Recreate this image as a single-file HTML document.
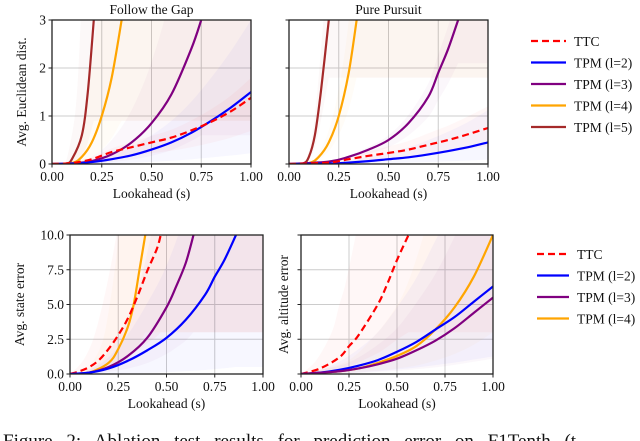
<!DOCTYPE html>
<html><head><meta charset="utf-8">
<style>
html,body{margin:0;padding:0;background:#fff;}
svg{display:block;font-family:"Liberation Serif",serif;}
</style></head>
<body>
<svg id="fig" width="640" height="441" viewBox="0 0 640 441" xmlns="http://www.w3.org/2000/svg"></svg>
<script>
// ---- data ----
const xTicks = [0, 0.25, 0.5, 0.75, 1.0];
const xTickLabels = ["0.00","0.25","0.50","0.75","1.00"];
const topYTicks = [0,1,2,3];
const topYTickLabels = ["0","1","2","3"];
const botYTicks = [0,2.5,5,7.5,10];
const botYTickLabels = ["0.0","2.5","5.0","7.5","10.0"];

// Follow the Gap
const fgTTC_x = [0,.1,.2,.3,.4,.5,.6,.7,.8,.9,1];
const fgTTC_y = [0,.02,.1,.25,.35,.45,.55,.7,.88,1.1,1.38];
const fgL2_x = [0,.1,.2,.3,.4,.5,.6,.7,.8,.9,1];
const fgL2_y = [0,.01,.04,.1,.18,.3,.45,.65,.9,1.18,1.5];
const fgL3_x = [0,.1,.2,.3,.4,.5,.6,.7,.75];
const fgL3_y = [0,.01,.06,.2,.45,.85,1.45,2.4,3.0];
const fgL4_x = [0,.1,.15,.2,.25,.3,.35];
const fgL4_y = [0,.02,.15,.45,1.0,1.8,3.0];
const fgL5_x = [0,.07,.1,.15,.18,.21];
const fgL5_y = [0,.01,.1,.6,1.5,3.0];
// Pure Pursuit
const ppTTC_x = [0,.2,.3,.4,.5,.6,.7,.8,.9,1];
const ppTTC_y = [0,.03,.1,.17,.23,.3,.4,.5,.62,.75];
const ppL2_x = [0,.2,.3,.4,.5,.6,.7,.8,.9,1];
const ppL2_y = [0,.01,.03,.06,.1,.14,.2,.27,.35,.45];
const ppL3_x = [0,.2,.3,.4,.5,.6,.7,.75,.8,.85];
const ppL3_y = [0,.05,.15,.3,.5,.85,1.4,1.9,2.4,3.0];
const ppL4_x = [0,.1,.15,.2,.25,.3,.34];
const ppL4_y = [0,.02,.15,.45,1.0,1.9,3.0];
const ppL5_x = [0,.07,.1,.13,.16,.2];
const ppL5_y = [0,.01,.15,.6,1.5,3.0];
// State error
const seTTC_x = [0,.05,.1,.15,.2,.25,.3,.35,.4,.45,.47];
const seTTC_y = [0,.2,.5,1.0,1.8,2.8,4.0,5.6,7.4,9.0,10];
const seL2_x = [0,.1,.2,.3,.4,.5,.6,.7,.75,.8,.86];
const seL2_y = [0,.1,.4,.95,1.7,2.6,3.9,5.7,7.0,8.2,10];
const seL3_x = [0,.1,.2,.3,.4,.5,.55,.6,.64];
const seL3_y = [0,.1,.5,1.3,2.6,4.8,6.3,8.0,10];
const seL4_x = [0,.1,.2,.25,.3,.33,.36,.39];
const seL4_y = [0,.1,.8,1.8,3.4,5.0,7.5,10];
// Altitude error
const aeTTC_x = [0,.1,.2,.25,.3,.4,.45,.5,.56];
const aeTTC_y = [0,.4,1.2,2.0,2.8,5.0,6.5,8.2,10];
const aeL2_x = [0,.1,.2,.3,.4,.5,.6,.7,.8,.9,1];
const aeL2_y = [0,.1,.3,.6,1.0,1.6,2.3,3.2,4.1,5.2,6.3];
const aeL3_x = [0,.2,.3,.4,.5,.6,.7,.8,.9,1];
const aeL3_y = [0,.2,.4,.7,1.1,1.7,2.4,3.3,4.4,5.5];
const aeL4_x = [0,.2,.3,.4,.5,.6,.7,.8,.9,1];
const aeL4_y = [0,.2,.4,.8,1.3,2.0,3.2,4.8,7.0,10];

const C = {ttc:"#ff0000", l2:"#0000ff", l3:"#800080", l4:"#ffa500", l5:"#a52a2a"};
const NS = "http://www.w3.org/2000/svg";
const svg = document.getElementById("fig");
function mk(tag, attrs, parent){
  const e = document.createElementNS(NS, tag);
  for (const k in attrs) e.setAttribute(k, attrs[k]);
  (parent||svg).appendChild(e);
  return e;
}
function pathThrough(pts, cmd){
  let d = (cmd||"M")+pts[0][0]+","+pts[0][1];
  for (let i=0;i<pts.length-1;i++){
    const p0=pts[Math.max(0,i-1)], p1=pts[i], p2=pts[i+1], p3=pts[Math.min(pts.length-1,i+2)];
    const c1=[p1[0]+(p2[0]-p0[0])/6, p1[1]+(p2[1]-p0[1])/6];
    const c2=[p2[0]-(p3[0]-p1[0])/6, p2[1]-(p3[1]-p1[1])/6];
    d+=" C"+c1[0]+","+c1[1]+" "+c2[0]+","+c2[1]+" "+p2[0]+","+p2[1];
  }
  return d;
}
let clipN = 0;
function panel(o){
  const g = mk("g", {});
  
  
  const xs = v => o.x0 + v*(o.x1-o.x0);
  const ys = v => o.y1 - v/o.ymax*(o.y1-o.y0);
  const id = "clip"+(clipN++);
  const cp = mk("clipPath", {id:id}, g);
  mk("rect", {x:o.x0, y:o.y0, width:o.x1-o.x0, height:o.y1-o.y0}, cp);
  xTicks.forEach(t=>{ const l=mk("line",{x1:xs(t),x2:xs(t),y1:o.y0,y2:o.y1,stroke:"#cccccc","stroke-width":1},g);
      });
  o.yt.forEach(t=>{ const l=mk("line",{x1:o.x0,x2:o.x1,y1:ys(t),y2:ys(t),stroke:"#cccccc","stroke-width":1},g);
      });
  const pg = mk("g", {"clip-path":"url(#"+id+")"}, g);
  o.series.forEach(s=>{
    const up = s.x.map((v,i)=>[xs(v*s.bx), ys(s.y[i]*s.bh)]);
    const lo = s.x.map((v,i)=>[xs(v), ys(s.y[i]*s.bl)]);
    const last = up[up.length-1];
    const loLast = lo[lo.length-1];
    let d = pathThrough(up) + " L"+last[0]+","+(o.y0-400)+" L"+(o.x1+400)+","+(o.y0-400)+" L"+(o.x1+400)+","+loLast[1];
    d += " " + pathThrough(lo.slice().reverse(), "L") + "Z";
    const b = mk("path",{d:d,fill:s.c,"fill-opacity":0.03,stroke:"none"},pg);
    
    
  });
  o.series.forEach(s=>{
    const pts = s.x.map((v,i)=>[xs(v), ys(s.y[i])]);
    const p = mk("path",{d:pathThrough(pts),fill:"none",stroke:s.c,"stroke-width":2.2,"stroke-dasharray":s.dash||"none"},pg);
    
    
  });
  const fr = mk("rect",{x:o.x0,y:o.y0,width:o.x1-o.x0,height:o.y1-o.y0,fill:"none",stroke:"#222","stroke-width":1.3},g);
   
  xTicks.forEach((t,i)=>{
    mk("line",{x1:xs(t),x2:xs(t),y1:o.y1,y2:o.y1+3.5,stroke:"#222"},g);
    const tx = mk("text",{x:xs(t),y:o.y1+17,"text-anchor":"middle","font-size":13.5,fill:"#111"},g);
    tx.textContent = xTickLabels[i];
     
  });
  o.yt.forEach((t,i)=>{
    mk("line",{x1:o.x0-3.5,x2:o.x0,y1:ys(t),y2:ys(t),stroke:"#222"},g);
    if (o.showY){
      const tx = mk("text",{x:o.x0-6,y:ys(t)+4.5,"text-anchor":"end","font-size":13.5,fill:"#111"},g);
      tx.textContent = o.ytl[i];
       
    }
  });
  const xl = mk("text",{x:(o.x0+o.x1)/2,y:o.y1+34,"text-anchor":"middle","font-size":13.5,fill:"#111"},g);
  xl.textContent = "Lookahead (s)";
   
  if (o.ylabel){
    const cy=(o.y0+o.y1)/2;
    const yl = mk("text",{x:o.ylx,y:cy,"text-anchor":"middle","font-size":13.5,fill:"#111",transform:"rotate(-90 "+o.ylx+" "+cy+")"},g);
    yl.textContent = o.ylabel;
     
  }
  if (o.title){
    const tt = mk("text",{x:(o.x0+o.x1)/2,y:o.y0-6,"text-anchor":"middle","font-size":13.5,fill:"#111"},g);
    tt.textContent = o.title;
     
  }
}
function S(k,x,y,bl,bh,bx){return {k:k,x:x,y:y,c:C[k],bl:bl,bh:bh,bx:bx,dash:k==="ttc"?"7,4":null};}
panel({name:"follow-the-gap-panel",x0:52,x1:251,y0:20,y1:164,ymax:3,yt:topYTicks,ytl:topYTickLabels,showY:true,
  ylabel:"Avg. Euclidean dist.",ylx:26,title:"Follow the Gap",
  series:[S("l5",fgL5_x,fgL5_y,0.3,2,0.8),S("l4",fgL4_x,fgL4_y,0.3,2,0.8),S("l3",fgL3_x,fgL3_y,0.2,2.5,1.0),
          S("l2",fgL2_x,fgL2_y,0.15,2,1),S("ttc",fgTTC_x,fgTTC_y,0.5,1.3,1)]});
panel({name:"pure-pursuit-panel",x0:289,x1:488,y0:20,y1:164,ymax:3,yt:topYTicks,ytl:topYTickLabels,showY:false,
  title:"Pure Pursuit",
  series:[S("l5",ppL5_x,ppL5_y,0.6,1.3,0.95),S("l4",ppL4_x,ppL4_y,0.6,1.3,0.95),S("l3",ppL3_x,ppL3_y,0.7,1.2,1),
          S("l2",ppL2_x,ppL2_y,0.2,2.5,1),S("ttc",ppTTC_x,ppTTC_y,0.5,1.6,1)]});
panel({name:"state-error-panel",x0:70,x1:263,y0:235,y1:374,ymax:10,yt:botYTicks,ytl:botYTickLabels,showY:true,
  ylabel:"Avg. state error",ylx:24,
  series:[S("l4",seL4_x,seL4_y,0.3,2.5,0.8),S("ttc",seTTC_x,seTTC_y,0.3,2.5,0.8),S("l3",seL3_x,seL3_y,0.3,2.5,0.9),
          S("l2",seL2_x,seL2_y,0.05,3,1)]});
panel({name:"altitude-error-panel",x0:301,x1:493,y0:235,y1:374,ymax:10,yt:botYTicks,ytl:botYTickLabels,showY:false,
  ylabel:"Avg. altitude error",ylx:288,
  series:[S("ttc",aeTTC_x,aeTTC_y,0.3,2.5,0.8),S("l4",aeL4_x,aeL4_y,0.3,3,0.9),S("l2",aeL2_x,aeL2_y,0.2,3,1),
          S("l3",aeL3_x,aeL3_y,0.2,3,1)]});

const legTopKeys = ["ttc","l2","l3","l4","l5"];
const legTopLabels = ["TTC","TPM (l=2)","TPM (l=3)","TPM (l=4)","TPM (l=5)"];
const legBotKeys = ["ttc","l2","l3","l4"];
const legBotLabels = ["TTC","TPM (l=2)","TPM (l=3)","TPM (l=4)"];
function legend(name,keys,labels,x,y0,dy,len){
  const g = mk("g",{});
   
  keys.forEach((k,i)=>{
    const y=y0+i*dy;
    const e = mk("g",{},g);
     
    mk("line",{x1:x,x2:x+len,y1:y,y2:y,stroke:C[k],"stroke-width":2.2,"stroke-dasharray":k==="ttc"?"7,4":"none"},e);
    const t = mk("text",{x:x+len+8,y:y+5,"font-size":13.5,fill:"#111"},e);
    t.textContent = labels[i];
  });
}
legend("legend-top",legTopKeys,legTopLabels,531,41,21.5,35);
legend("legend-bottom",legBotKeys,legBotLabels,537,254,21.5,32);

const cap = mk("text",{x:3,y:447,"font-size":19,fill:"#111","word-spacing":"9"});
cap.textContent = "Figure 2:  Ablation test results for prediction error on F1Tenth (t";
 
</script>
</body></html>
